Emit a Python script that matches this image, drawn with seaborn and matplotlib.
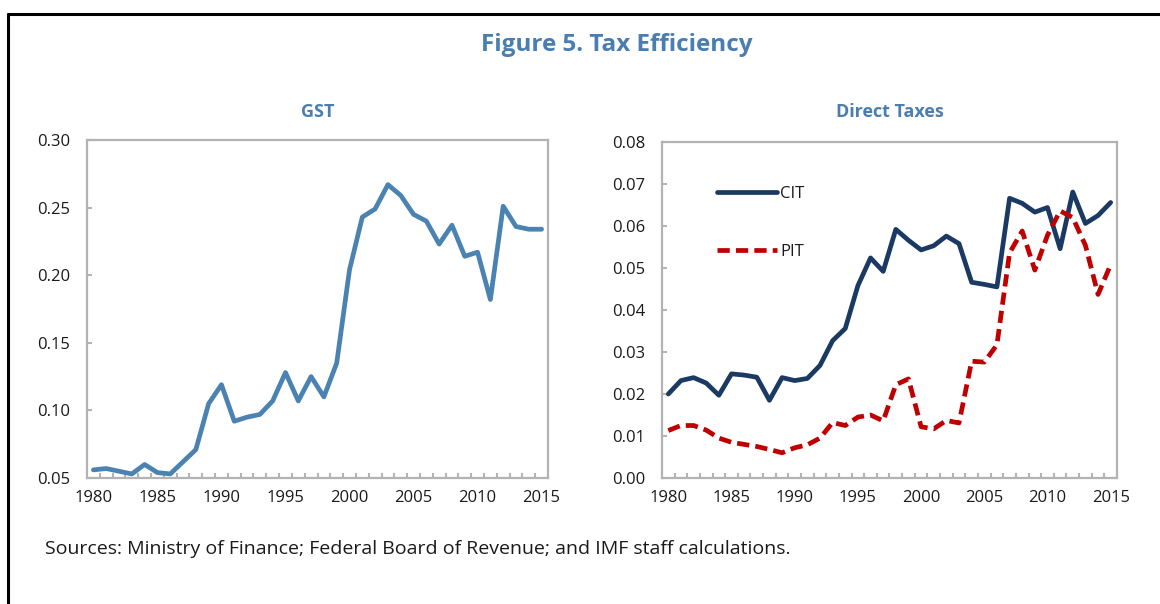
import matplotlib
matplotlib.use("Agg")
import matplotlib.pyplot as plt
import seaborn as sns
import pandas as pd
import numpy as np
from matplotlib.lines import Line2D
from matplotlib.ticker import FixedLocator, FormatStrFormatter

years = list(range(1980, 2016))

gst = [0.056, 0.057, 0.055, 0.053, 0.060, 0.054, 0.053, 0.062, 0.071, 0.105,
       0.119, 0.092, 0.095, 0.097, 0.107, 0.128, 0.107, 0.125, 0.110, 0.135,
       0.204, 0.243, 0.249, 0.267, 0.259, 0.245, 0.240, 0.223, 0.237, 0.214,
       0.217, 0.182, 0.251, 0.236, 0.234, 0.234]

cit = [0.0200, 0.0232, 0.0239, 0.0226, 0.0197, 0.0248, 0.0245, 0.0240, 0.0185, 0.0239,
       0.0232, 0.0237, 0.0268, 0.0327, 0.0356, 0.0458, 0.0524, 0.0492, 0.0592, 0.0566,
       0.0543, 0.0553, 0.0576, 0.0558, 0.0466, 0.0461, 0.0455, 0.0666, 0.0654, 0.0633,
       0.0644, 0.0546, 0.0681, 0.0606, 0.0625, 0.0656]

pit = [0.0113, 0.0125, 0.0125, 0.0114, 0.0095, 0.0085, 0.0080, 0.0075, 0.0068, 0.0060,
       0.0072, 0.0079, 0.0095, 0.0132, 0.0125, 0.0145, 0.0150, 0.0136, 0.0222, 0.0236,
       0.0122, 0.0117, 0.0137, 0.0131, 0.0278, 0.0276, 0.0317, 0.0536, 0.0588, 0.0495,
       0.0578, 0.0636, 0.0620, 0.0554, 0.0437, 0.0508]

x_labels = [1980, 1985, 1990, 1995, 2000, 2005, 2010, 2015]
gst_yticks = [0.05, 0.10, 0.15, 0.20, 0.25, 0.30]
dt_yticks = [0.00, 0.01, 0.02, 0.03, 0.04, 0.05, 0.06, 0.07, 0.08]

title = "Figure 5. Tax Efficiency"
sub_titles = ["GST", "Direct Taxes"]
source = "Sources: Ministry of Finance; Federal Board of Revenue; and IMF staff calculations."

sns.set_theme(style="white")
plt.rcParams['font.family'] = ['Open Sans', 'DejaVu Sans']

W, H = 1160, 604
fig = plt.figure(figsize=(W / 100, H / 100), dpi=100)

title_color = "#4A7EB0"
spine_color = "#B3B3B3"
text_color = "#1A1A1A"

def axbox(x0, y0, x1, y1):
    return [x0 / W, 1 - y1 / H, (x1 - x0) / W, (y1 - y0) / H]

ax1 = fig.add_axes(axbox(87, 140, 548, 478))
ax2 = fig.add_axes(axbox(662, 142, 1117, 478))

df_gst = pd.DataFrame({"year": years, "value": gst})
df_cit = pd.DataFrame({"year": years, "value": cit})
df_pit = pd.DataFrame({"year": years, "value": pit})

sns.lineplot(data=df_gst, x="year", y="value", ax=ax1, color="#4A82B2",
             linewidth=3.4)
sns.lineplot(data=df_cit, x="year", y="value", ax=ax2, color="#1B3A63",
             linewidth=3.4, label="CIT")
sns.lineplot(data=df_pit, x="year", y="value", ax=ax2, color="#C00000",
             linewidth=3.4, label="PIT")
ax2.get_lines()[1].set_dashes([2.6, 1.3])

for ax, yt in ((ax1, gst_yticks), (ax2, dt_yticks)):
    ax.set_xlim(1979.5, 2015.5)
    ax.set_ylim(yt[0], yt[-1])
    ax.set_xlabel("")
    ax.set_ylabel("")
    ax.xaxis.set_major_locator(FixedLocator(x_labels))
    ax.xaxis.set_minor_locator(FixedLocator(np.arange(1980.5, 2015.0, 1.0)))
    ax.yaxis.set_major_locator(FixedLocator(yt))
    ax.yaxis.set_major_formatter(FormatStrFormatter("%.2f"))
    ax.tick_params(axis="x", which="major", length=0, pad=9, labelsize=12,
                   labelcolor=text_color, bottom=True)
    ax.tick_params(axis="x", which="minor", length=3.5, width=1.5, direction="in",
                   color=spine_color, bottom=True)
    ax.tick_params(axis="y", which="major", length=3.5, width=1.5, direction="in",
                   color=spine_color, pad=12, labelsize=12, labelcolor=text_color, left=True)
    for s in ax.spines.values():
        s.set_color(spine_color)
        s.set_linewidth(1.6)
        s.set_visible(True)
    ax.grid(False)

ax1.set_title(sub_titles[0], fontsize=13, fontweight="bold", color=title_color, pad=16.5)
ax2.set_title(sub_titles[1], fontsize=13, fontweight="bold", color=title_color, pad=18)

leg = ax2.legend(loc="upper left", bbox_to_anchor=(0.12, 0.87), frameon=False,
                 handlelength=3.6, labelspacing=2.55, handletextpad=0.2,
                 fontsize=12, borderpad=0, borderaxespad=0)
for t in leg.get_texts():
    t.set_color(text_color)

fig.text(617 / W, 1 - 45 / H, title, ha="center", va="center", fontsize=17.5,
         fontweight="bold", color=title_color)
fig.text(45 / W, 1 - 549 / H, source, ha="left", va="center", fontsize=14,
         color=text_color)

fig.add_artist(Line2D([8 / W, 1.0], [1 - 14 / H, 1 - 14 / H], color="black", linewidth=2.2,
                      transform=fig.transFigure))
fig.add_artist(Line2D([8 / W, 8 / W], [0.0, 1 - 14 / H], color="black", linewidth=2.2,
                      transform=fig.transFigure))

fig.savefig("out.png", dpi=100, facecolor="white")
